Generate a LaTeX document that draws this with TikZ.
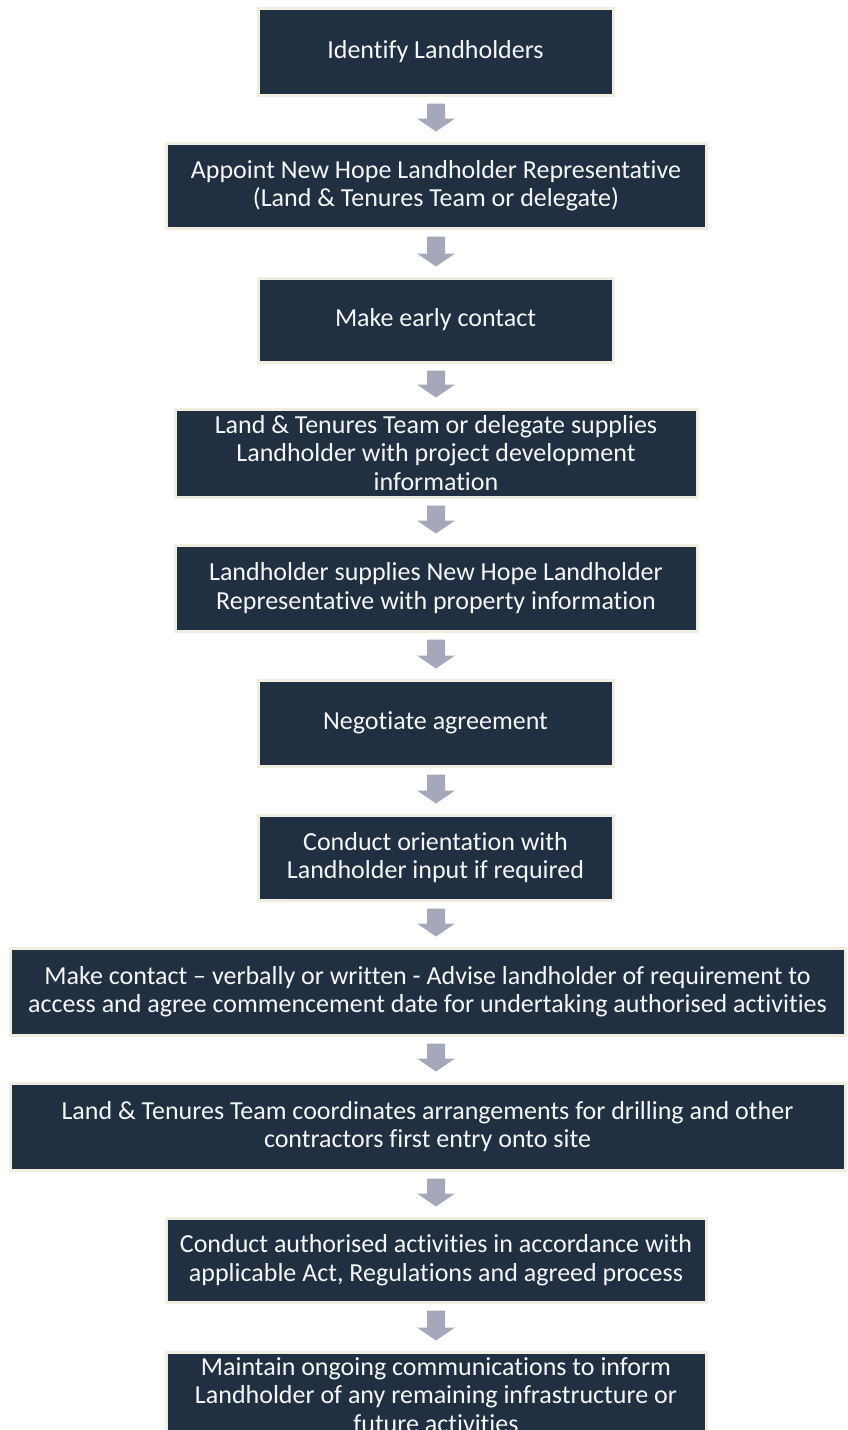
\documentclass[tikz,border=0pt]{standalone}
\usepackage{fontspec}
\setmainfont{Carlito}[Ligatures=NoCommon]
\usetikzlibrary{calc}
\definecolor{boxfill}{RGB}{32,48,66}
\definecolor{boxedge}{RGB}{240,238,222}
\definecolor{arrowc}{RGB}{163,169,186}
\definecolor{textc}{RGB}{246,246,246}
\tikzset{
  stepbox/.style={draw=boxedge, line width=3pt, fill=boxfill, text=textc,
    align=center, inner sep=0pt, font=\fontsize{26}{28.5}\selectfont},
}
% block arrow on the centre column, from the bottom of one box to the top of the next
\newcommand{\blockarrow}[2]{%
  \coordinate (atop) at (#1.south -| ax);
  \coordinate (abot) at (#2.north -| ax);
  \fill[arrowc] ($(atop)+(-9,7)$) -- ($(atop)+(9,7)$)
    -- ($(abot)+(9,-23)$) -- ($(abot)+(19,-23)$)
    -- ($(abot)+(0,-10)$) -- ($(abot)+(-19,-23)$)
    -- ($(abot)+(-9,-23)$) -- cycle;}
\begin{document}
\begin{tikzpicture}[x=1pt,y=-1pt]
\useasboundingbox (0,0) rectangle (848,1430);
\fill[white] (0,0) rectangle (848,1430);
\clip (0,0) rectangle (848,1430);
\coordinate (ax) at (436,0);
\node[stepbox, minimum width=355, minimum height=87] (s1) at (435.5,51.5) {Identify Landholders};
\node[stepbox, minimum width=540, minimum height=85] (s2) at (436,185.5) {Appoint New Hope Landholder Representative\\(Land \& Tenures Team or delegate)};
\node[stepbox, minimum width=355, minimum height=84] (s3) at (435.5,320) {Make early contact};
\node[stepbox, minimum width=522, minimum height=88] (s4) at (436,453) {Land \& Tenures Team or delegate supplies\\Landholder with project development\\information};
\node[stepbox, minimum width=522, minimum height=86] (s5) at (436,588) {Landholder supplies New Hope Landholder\\Representative with property information};
\node[stepbox, minimum width=355, minimum height=86] (s6) at (435.5,723) {Negotiate agreement};
\node[stepbox, minimum width=355, minimum height=85] (s7) at (435.5,857.5) {Conduct orientation with\\Landholder input if required};
\node[stepbox, minimum width=835, minimum height=87] (s8) at (427.5,991.5) {Make contact – verbally or written - Advise landholder of requirement to\\access and agree commencement date for undertaking authorised activities};
\node[stepbox, minimum width=835, minimum height=87] (s9) at (427.5,1126.5) {Land \& Tenures Team coordinates arrangements for drilling and other\\contractors first entry onto site};
\node[stepbox, minimum width=540, minimum height=84] (s10) at (436,1260) {Conduct authorised activities in accordance with\\applicable Act, Regulations and agreed process};
\node[stepbox, minimum width=540, minimum height=86] (s11) at (436,1395) {Maintain ongoing communications to inform\\Landholder of any remaining infrastructure or\\future activities};
\blockarrow{s1}{s2}
\blockarrow{s2}{s3}
\blockarrow{s3}{s4}
\blockarrow{s4}{s5}
\blockarrow{s5}{s6}
\blockarrow{s6}{s7}
\blockarrow{s7}{s8}
\blockarrow{s8}{s9}
\blockarrow{s9}{s10}
\blockarrow{s10}{s11}
\end{tikzpicture}
\end{document}
